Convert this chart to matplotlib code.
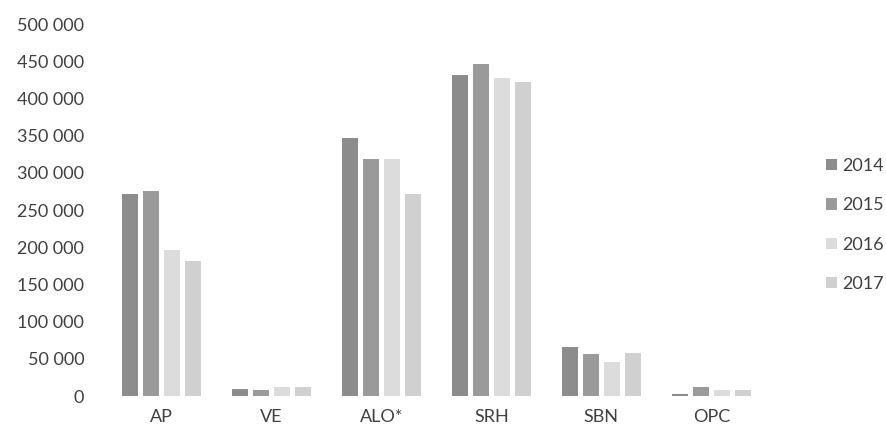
import numpy as np
from matplotlib import pyplot as plt


categories = ['AP', 'VE', 'ALO*', 'SRH', 'SBN', 'OPC']
years = ['2014', '2015', '2016', '2017']

values_2014 = [272000, 10000, 347000, 432000, 66000, 3000]
values_2015 = [275000, 8000, 318000, 446000, 56000, 12000]
values_2016 = [196000, 12000, 318000, 428000, 46000, 8000]
values_2017 = [182000, 12000, 272000, 422000, 58000, 8000]

colors = ['#8c8c8c', '#9a9a9a', '#dcdcdc', '#d0d0d0']
label_colors = ['#404040', '#a8a8a8', '#404040', '#404040', '#404040', '#a8a8a8']

plt.rcParams['font.family'] = ['Lato', 'DejaVu Sans']

fig = plt.figure(figsize=(8.87, 4.32), dpi=100)
ax = fig.add_axes([0.12, 0.0833, 0.744, 0.861])

x = np.arange(len(categories))
width = 0.145
step = 0.19
series = [values_2014, values_2015, values_2016, values_2017]
for i, (vals, year) in enumerate(zip(series, years)):
    ax.bar(x + (i - 1.5) * step, vals, width, color=colors[i], label=year)

ax.set_xlim(-0.5, len(categories) - 0.5)
ax.set_ylim(0, 500000)
ax.set_yticks(np.arange(0, 500001, 50000))
ax.set_yticklabels([f'{v:,}'.replace(',', ' ') for v in range(0, 500001, 50000)])
ax.set_xticks(x)
ax.set_xticklabels(categories)
for lbl, c in zip(ax.get_xticklabels(), label_colors):
    lbl.set_color(c)

for s in ax.spines.values():
    s.set_visible(False)
ax.tick_params(length=0, labelsize=13, colors='#404040')
ax.tick_params(axis='x', pad=9)
ax.tick_params(axis='y', pad=16)

ax.legend(loc='center left', bbox_to_anchor=(1.0, 0.46), frameon=False,
          fontsize=13, labelcolor='#404040', handlelength=0.6, handleheight=0.6,
          handletextpad=0.3, labelspacing=1.3, borderaxespad=2.9)

fig.savefig('out.png', dpi=100)
